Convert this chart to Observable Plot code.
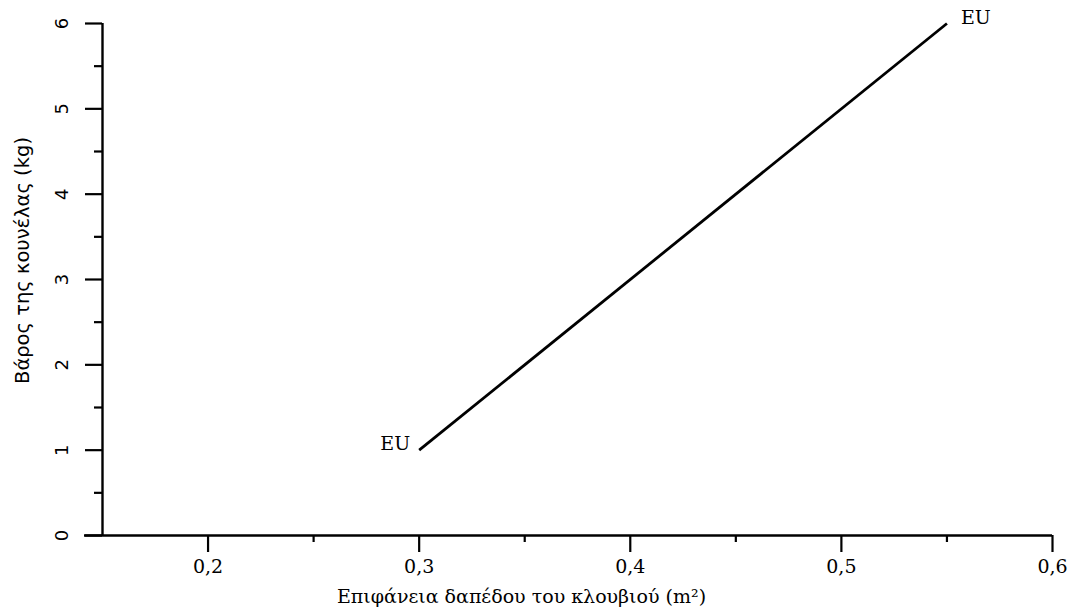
<!DOCTYPE html>
<html><head><meta charset="utf-8">
<script src="https://cdn.jsdelivr.net/npm/d3@7"></script>
<script src="https://cdn.jsdelivr.net/npm/@observablehq/plot@0.6"></script>
<style>body{margin:0;background:#fff}</style>
</head><body><div id="chart"></div>
<script>
const area = [0.3, 0.55];
const weight = [1, 6];
const endLabels = ["EU", "EU"];
const xMajor = [0.2, 0.3, 0.4, 0.5, 0.6];
const xMinor = [0.25, 0.35, 0.45, 0.55];
const yMajor = [0, 1, 2, 3, 4, 5, 6];
const yMinor = [0.5, 1.5, 2.5, 3.5, 4.5, 5.5];
const xLabel = "Επιφάνεια δαπέδου του κλουβιού (m²)";
const yLabel = "Βάρος της κουνέλας (kg)";

const data = area.map((a, i) => ({area: a, weight: weight[i], label: endLabels[i]}));
const fmt = d => d.toFixed(1).replace(".", ",");
const serif = "'DejaVu Serif', serif";
const sans = "'DejaVu Sans', sans-serif";

const chart = Plot.plot({
  width: 1072, height: 610,
  marginLeft: 102, marginRight: 20, marginTop: 23, marginBottom: 75,
  style: {fontFamily: serif, fontSize: "18px", color: "#000", background: "#fff"},
  x: {domain: [0.15, 0.6]},
  y: {domain: [0, 6]},
  marks: [
    Plot.axisX(xMajor, {tickSize: 17, strokeWidth: 2.2, text: null, label: null}),
    Plot.axisX(xMinor, {tickSize: 7, strokeWidth: 2.2, text: null, label: null}),
    Plot.axisY(yMajor, {tickSize: 17, strokeWidth: 2.2, text: null, label: null}),
    Plot.axisY(yMinor, {tickSize: 8, strokeWidth: 2.2, text: null, label: null}),
    Plot.text(xMajor, {x: d => d, text: fmt, frameAnchor: "bottom", dy: 31, lineAnchor: "middle", textAnchor: "middle", fontSize: 19, fontFamily: serif}),
    Plot.text(yMajor, {y: d => d, text: d => String(d), frameAnchor: "left", dx: -40, rotate: -90, textAnchor: "middle", lineAnchor: "middle", fontSize: 18, fontFamily: sans}),
    Plot.ruleY([0], {strokeWidth: 2.4, insetLeft: -18}),
    Plot.ruleX([0.15], {y1: 0, y2: 6, strokeWidth: 2.4}),
    Plot.line(data, {x: "area", y: "weight", strokeWidth: 2.8, stroke: "#000", strokeLinecap: "butt"}),
    Plot.text(data.slice(0, 1), {x: "area", y: "weight", text: "label", textAnchor: "end", dx: -9, dy: -6, fontSize: 19, fontFamily: serif}),
    Plot.text(data.slice(1), {x: "area", y: "weight", text: "label", textAnchor: "start", dx: 14, dy: -6, fontSize: 19, fontFamily: serif}),
    Plot.text([xLabel], {text: d => d, frameAnchor: "bottom", dx: -56, dy: 61, lineAnchor: "middle", textAnchor: "middle", fontSize: 19, fontFamily: serif}),
    Plot.text([yLabel], {text: d => d, frameAnchor: "left", dx: -80, dy: -19, rotate: -90, textAnchor: "middle", lineAnchor: "middle", fontSize: 19.5, fontFamily: sans})
  ]
});
document.getElementById("chart").appendChild(chart);
</script>
</body></html>
